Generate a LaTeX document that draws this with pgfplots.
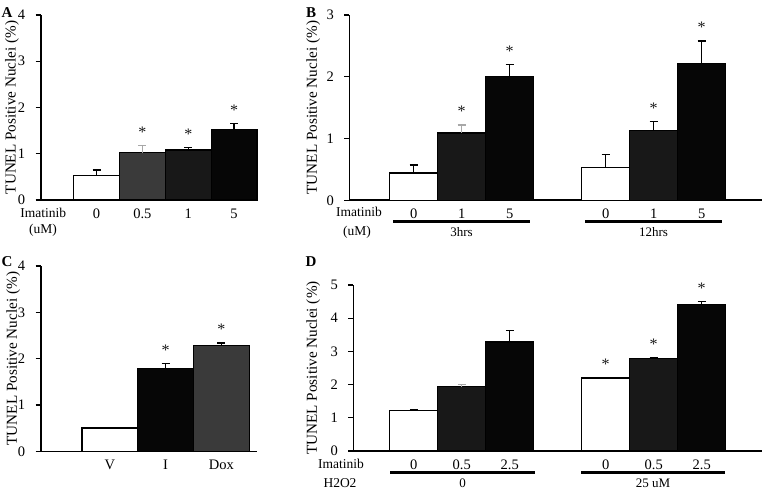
\documentclass[border=0pt]{standalone}
\usepackage{fontspec}
\setmainfont{Liberation Serif}
\usepackage{pgfplots}
\pgfplotsset{compat=1.18}

\definecolor{dgray}{HTML}{3A3A3A}
\definecolor{nblack}{HTML}{181818}
\definecolor{vblack}{HTML}{060606}
\definecolor{errgray}{HTML}{A8A8A8}

\pgfplotsset{
  panel/.style={
    scale only axis, axis lines=left,
    axis line style={-, line width=1.6pt},
    ymin=0, enlargelimits=false, clip=false,
    tick align=outside, major tick length=5pt,
    xtick style={draw=none},
    ytick style={line width=1.3pt, black},
    ticklabel style={font=\fontsize{14.5}{15}\selectfont},
    yticklabel style={xshift=-7pt},
    /pgf/number format/assume math mode=true,
    ylabel={TUNEL Positive Nuclei (\%)},
    every axis y label/.style={rotate=90, anchor=center,
      font=\fontsize{15.2}{16}\selectfont},
  },
  bar/.style={ybar, bar shift=0pt, bar width=1, draw=black, line width=1.3pt,
    error bars/y dir=plus, error bars/y explicit,
    error bars/error bar style={line width=1.3pt, black},
    error bars/error mark options={rotate=90, line width=1.3pt, mark size=4pt, black}},
  grayerr/.style={
    error bars/error bar style={line width=1.3pt, errgray},
    error bars/error mark options={rotate=90, line width=1.3pt, mark size=4pt, errgray}},
  star/.style={only marks, mark=*, mark size=0pt,
    mark options={draw=none, fill=none},
    nodes near coords={*},
    nodes near coords style={anchor=base, yshift=8pt, text=black!90,
      font=\fontsize{16}{16}\selectfont}},
}

\begin{document}
\begin{tikzpicture}[x=1pt, y=1pt]
\path[use as bounding box, fill=white] (0,0) rectangle (763,490);

% ---- A ----
\begin{axis}[panel, at={(40.7pt,290pt)}, anchor=south west,
  width=216.3pt, height=185pt,
  xmin=-1.22, xmax=3.5, ymax=4, ytick={0,1,2,3,4},
  xtick={0,1,2,3}, xticklabels={0,0.5,1,5},
  ylabel style={at={(axis description cs:-0.1327,0.5)}}]
\addplot[bar, fill=white] coordinates {(0,0.53) +- (0,0.12)};
\addplot[bar, grayerr, fill=dgray] coordinates {(1,1.02) +- (0,0.16)};
\addplot[bar, fill=nblack] coordinates {(2,1.08) +- (0,0.05)};
\addplot[bar, fill=vblack] coordinates {(3,1.52) +- (0,0.13)};
\addplot[star] coordinates {(1,1.18) (2,1.13) (3,1.65)};
\end{axis}

% ---- B ----
\begin{axis}[panel, at={(349.3pt,289.7pt)}, anchor=south west,
  width=412.4pt, height=185.3pt,
  xmin=-1.34, xmax=7.25, ymax=3, ytick={0,1,2,3},
  xtick={0,1,2,4,5,6}, xticklabels={0,1,5,0,1,5},
  ylabel style={at={(axis description cs:-0.0873,0.5)}}]
\addplot[bar, fill=white] coordinates {(0,0.44) +- (0,0.13)};
\addplot[bar, grayerr, fill=nblack] coordinates {(1,1.09) +- (0,0.13)};
\addplot[bar, fill=vblack] coordinates {(2,2.00) +- (0,0.20)};
\addplot[bar, fill=white] coordinates {(4,0.53) +- (0,0.21)};
\addplot[bar, fill=nblack] coordinates {(5,1.13) +- (0,0.15)};
\addplot[bar, fill=vblack] coordinates {(6,2.22) +- (0,0.36)};
\addplot[star] coordinates {(1,1.22) (2,2.20) (5,1.28) (6,2.58)};
\end{axis}

% ---- C ----
\begin{axis}[panel, at={(40.7pt,38.7pt)}, anchor=south west,
  width=216.3pt, height=185.3pt,
  xmin=-1.24, xmax=2.64, ymax=4, ytick={0,1,2,3,4},
  xtick={0,1,2}, xticklabels={V,I,Dox},
  ylabel style={at={(axis description cs:-0.1276,0.5)}}]
\addplot[bar, fill=white] coordinates {(0,0.50) +- (0,0.02)};
\addplot[bar, fill=vblack] coordinates {(1,1.78) +- (0,0.12)};
\addplot[bar, fill=dgray] coordinates {(2,2.28) +- (0,0.06)};
\addplot[star] coordinates {(1,1.90) (2,2.34)};
\end{axis}

% ---- D ----
\begin{axis}[panel, at={(353.3pt,39pt)}, anchor=south west,
  width=408.4pt, height=166pt,
  xmin=-1.26, xmax=7.25, ymax=5, ytick={0,1,2,3,4,5},
  xtick={0,1,2,4,5,6}, xticklabels={0,0.5,2.5,0,0.5,2.5},
  ylabel style={at={(axis description cs:-0.098,0.5)}}]
\addplot[bar, fill=white] coordinates {(0,1.23) +- (0,0.03)};
\addplot[bar, grayerr, fill=nblack] coordinates {(1,1.94) +- (0,0.06)};
\addplot[bar, fill=vblack] coordinates {(2,3.28) +- (0,0.35)};
\addplot[bar, fill=white] coordinates {(4,2.20) +- (0,0.02)};
\addplot[bar, fill=nblack] coordinates {(5,2.78) +- (0,0.04)};
\addplot[bar, fill=vblack] coordinates {(6,4.42) +- (0,0.08)};
\addplot[star] coordinates {(4,2.22) (5,2.82) (6,4.50)};
\end{axis}

% ---- labels outside the axes ----
\begin{scope}[every node/.style={font=\fontsize{13.5}{14}\selectfont}]
\node at (43.3,277) {Imatinib};
\node at (43,260) {(uM)};
\node at (359,278) {Imatinib};
\node at (357,258) {(uM)};
\node at (341,26) {Imatinib};
\node at (340,7) {H2O2};
\end{scope}
\begin{scope}[every node/.style={font=\fontsize{13}{13}\selectfont}]
\node at (461.5,258) {3hrs};
\node at (653.5,258) {12hrs};
\node at (462.5,7) {0};
\node at (653,7) {25 uM};
\end{scope}
\draw[line width=3pt] (393,268) -- (530,268);
\draw[line width=3pt] (585,268) -- (722,268);
\draw[line width=3pt] (390,17.5) -- (535,17.5);
\draw[line width=3pt] (581,17.5) -- (725,17.5);
\begin{scope}[every node/.style={font=\bfseries\fontsize{15}{16}\selectfont}]
\node at (7,477) {A};
\node at (311,477) {B};
\node at (7,228) {C};
\node at (311,228) {D};
\end{scope}
\end{tikzpicture}
\end{document}
